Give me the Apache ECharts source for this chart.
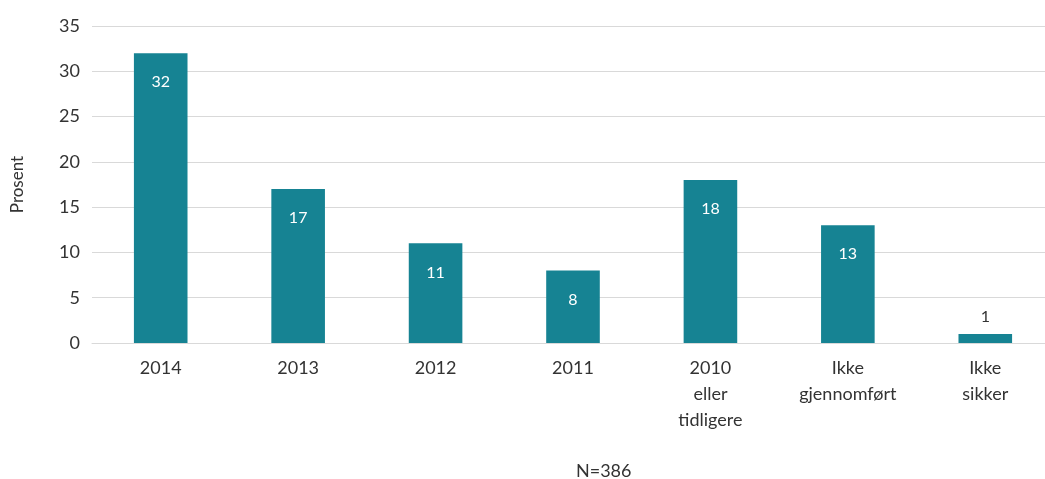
<!DOCTYPE html>
<html>
<head>
<meta charset="utf-8">
<script src="https://cdn.jsdelivr.net/npm/echarts@6/dist/echarts.min.js"></script>
<style>
html, body { margin: 0; padding: 0; background: #fff; }
#contain { width: 1045px; height: 479px; }
</style>
</head>
<body>
<div id="contain"></div>
<script>
const categories = ['2014', '2013', '2012', '2011', '2010\neller\ntidligere', 'Ikke\ngjennomført', 'Ikke\nsikker']
const values = [32, 17, 11, 8, 18, 13, 1]
const yTicks = { min: 0, max: 35, interval: 5 }

const myChart = echarts.init(document.getElementById('contain'))
const font = 'Lato, "Open Sans", sans-serif'

const option = {
  animation: false,
  textStyle: { fontFamily: font },
  grid: { left: 92, width: 962, top: 26, bottom: 136, containLabel: false, outerBoundsMode: 'none' },
  title: {
    text: 'N=386',
    left: 571,
    top: 457,
    textStyle: { fontFamily: font, fontSize: 18, fontWeight: 'normal', color: '#333' }
  },
  xAxis: {
    type: 'category',
    data: categories,
    axisLine: { show: true, lineStyle: { color: '#d9d9d9', width: 1 } },
    axisTick: { show: false },
    axisLabel: {
      color: '#333',
      fontSize: 18,
      lineHeight: 26,
      margin: 12,
      interval: 0,
      fontFamily: font
    }
  },
  yAxis: {
    type: 'value',
    min: yTicks.min,
    max: yTicks.max,
    interval: yTicks.interval,
    name: 'Prosent',
    nameLocation: 'middle',
    nameGap: 66,
    nameRotate: 90,
    nameTextStyle: { color: '#333', fontSize: 17, fontFamily: font },
    axisLine: { show: false },
    axisTick: { show: false },
    axisLabel: { color: '#333', fontSize: 18, margin: 12, fontFamily: font },
    splitLine: { lineStyle: { color: '#d9d9d9', width: 1 } }
  },
  series: [{
    type: 'bar',
    data: values.map(v => ({
      value: v,
      label: v < 3
        ? { position: 'top', color: '#333', distance: 9 }
        : { position: 'insideTop', color: '#fff', distance: 21 }
    })),
    barWidth: '39%',
    itemStyle: { color: '#168393' },
    label: { show: true, fontSize: 16, fontFamily: font }
  }]
}

myChart.setOption(option)
</script>
</body>
</html>
